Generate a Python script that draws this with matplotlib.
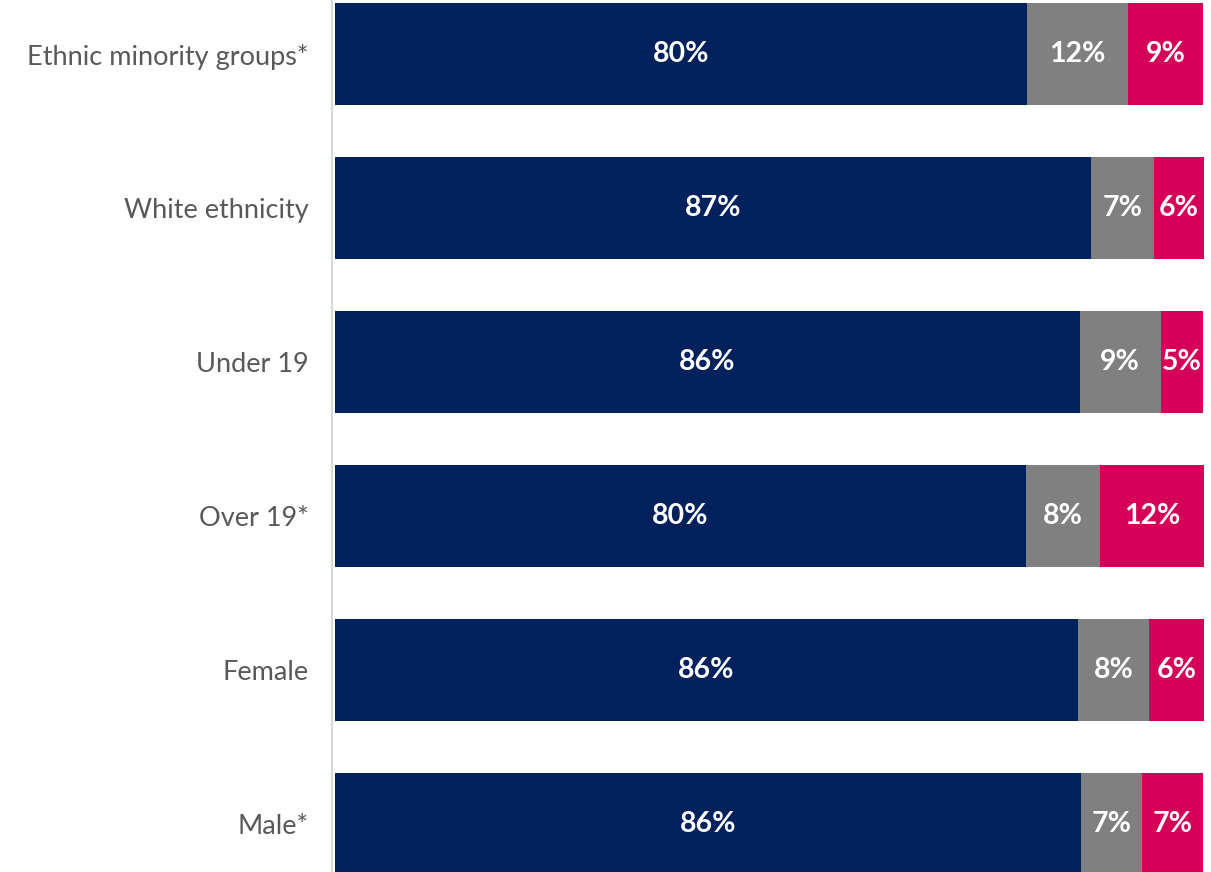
import matplotlib.pyplot as plt
import numpy as np

# Survey shares by group (percent of respondents)
groups = ['Ethnic minority groups*', 'White ethnicity', 'Under 19',
          'Over 19*', 'Female', 'Male*']
positive = [79.6, 87.0, 85.7, 79.5, 85.5, 85.8]
neutral = [11.7, 7.2, 9.3, 8.5, 8.2, 7.1]
negative = [8.6, 5.8, 4.9, 12.0, 6.3, 7.0]

colors = ['#00215B', '#808080', '#D50057']

plt.rcParams['font.family'] = ['Lato', 'DejaVu Sans']

fig = plt.figure(figsize=(12.11, 8.72), dpi=100, facecolor='white')
ax = fig.add_axes([335 / 1211, 0, 869 / 1211, 1])

y = np.arange(len(groups))
left = np.zeros(len(groups))
for vals, c in zip([positive, neutral, negative], colors):
    vals = np.array(vals)
    bars = ax.barh(y, vals, left=left, height=0.657, color=c, edgecolor='none')
    for yi, l, v in zip(y, left, vals):
        ax.text(l + v / 2, yi, '{:.0f}%'.format(v), ha='center', va='center',
                color='white', fontsize=20.5, fontweight='bold')
    left = left + vals

ax.set_xlim(0, left.max())
ax.set_ylim(5.312, -0.351)
ax.set_yticks(y)
ax.set_yticklabels(groups)
ax.tick_params(axis='y', length=0, pad=17, labelsize=19.5, labelcolor='#595959')
ax.set_xticks([])
for s in ['top', 'right', 'bottom']:
    ax.spines[s].set_visible(False)
ax.spines['left'].set_color('#D9D9D9')
ax.spines['left'].set_linewidth(1.5)
ax.spines['left'].set_position(('outward', 2))

fig.savefig('out.png', dpi=100, facecolor='white')
